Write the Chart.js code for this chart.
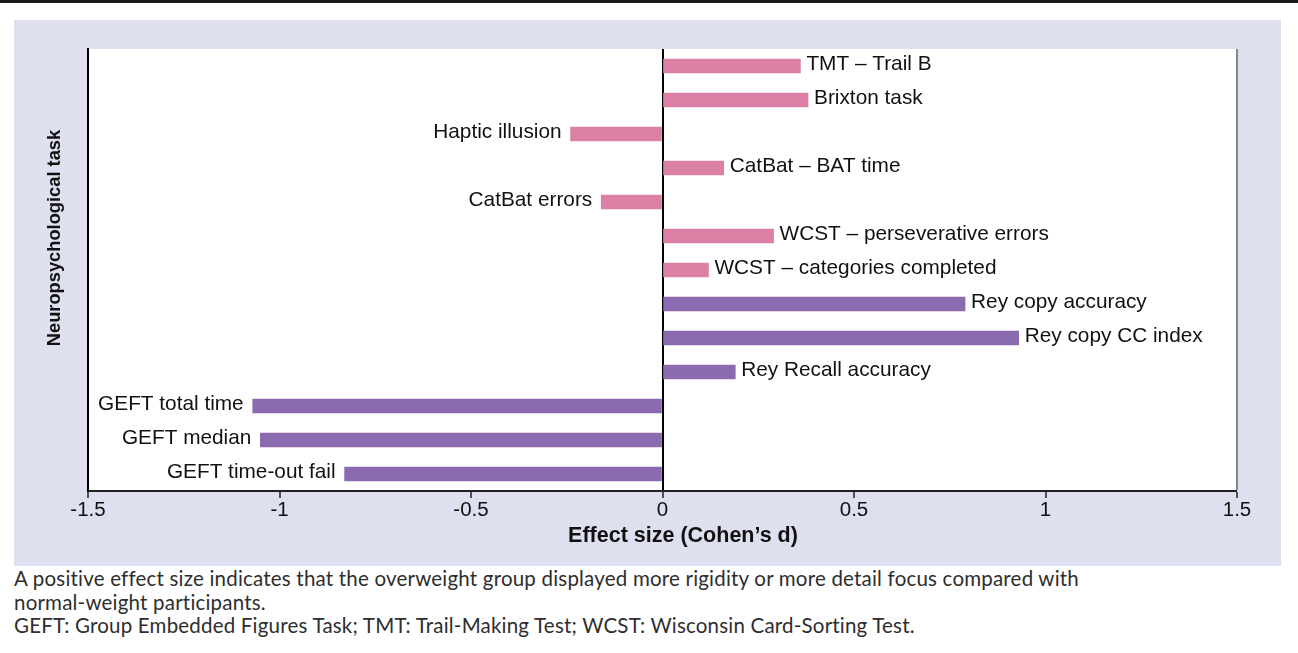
<!DOCTYPE html>
<html>
<head>
<meta charset="utf-8">
<script src="https://cdn.jsdelivr.net/npm/chart.js@4/dist/chart.umd.min.js"></script>
<style>
  html, body { margin: 0; padding: 0; background: #ffffff; }
  body { width: 1298px; height: 653px; position: relative; overflow: hidden; }
  #topbar { position: absolute; left: 0; top: 0; width: 1298px; height: 3px; background: #1a1a1a; }
  #panel { position: absolute; left: 14px; top: 20px; width: 1267px; height: 546px; background: #dfe0ef; }
  #panel canvas { position: absolute; left: 0; top: 0; }
  #notes { position: absolute; left: 14px; top: 567px; font-family: Lato, "Open Sans", sans-serif; font-size: 20.5px; letter-spacing: 0.2px; line-height: 23.5px; color: #2e2e2e; white-space: nowrap; }
</style>
</head>
<body>
<div id="topbar"></div>
<div id="panel"><canvas id="chart" width="1267" height="546"></canvas></div>
<div id="notes">A positive effect size indicates that the overweight group displayed more rigidity or more detail focus compared with<br>normal-weight participants.<br>GEFT: Group Embedded Figures Task; TMT: Trail-Making Test; WCST: Wisconsin Card-Sorting Test.</div>
<script>
// ---- data ----
const tasks = [
  'TMT – Trail B',
  'Brixton task',
  'Haptic illusion',
  'CatBat – BAT time',
  'CatBat errors',
  'WCST – perseverative errors',
  'WCST – categories completed',
  'Rey copy accuracy',
  'Rey copy CC index',
  'Rey Recall accuracy',
  'GEFT total time',
  'GEFT median',
  'GEFT time-out fail'
];
const effectSizes = [0.36, 0.38, -0.24, 0.16, -0.16, 0.29, 0.12, 0.79, 0.93, 0.19, -1.07, -1.05, -0.83];
const taskDomain = ['rigidity','rigidity','rigidity','rigidity','rigidity','rigidity','rigidity',
                    'detail','detail','detail','detail','detail','detail'];
const xTicks = [-1.5, -1, -0.5, 0, 0.5, 1, 1.5];
const xAxisTitle = 'Effect size (Cohen’s d)';
const yAxisTitle = 'Neuropsychological task';

const domainColors = { rigidity: '#db7fa4', detail: '#8b6bb0' };
const FONT = '"Liberation Sans", Arial, Helvetica, sans-serif';

const whiteArea = {
  id: 'whiteArea',
  beforeDraw(chart) {
    const { ctx, chartArea: a } = chart;
    ctx.save();
    ctx.fillStyle = '#ffffff';
    ctx.fillRect(a.left, a.top, a.right - a.left, a.bottom - a.top);
    ctx.restore();
  }
};

const barLabels = {
  id: 'barLabels',
  afterDatasetsDraw(chart) {
    const ctx = chart.ctx;
    const meta = chart.getDatasetMeta(0);
    ctx.save();
    ctx.font = '20.8px ' + FONT;
    ctx.fillStyle = '#111';
    ctx.textBaseline = 'middle';
    meta.data.forEach((bar, i) => {
      const v = effectSizes[i];
      if (v >= 0) {
        ctx.textAlign = 'left';
        ctx.fillText(tasks[i], bar.x + 6, bar.y - 2);
      } else {
        ctx.textAlign = 'right';
        ctx.fillText(tasks[i], bar.x - 9, bar.y - 2);
      }
    });
    ctx.restore();
  }
};

const axisTitles = {
  id: 'axisTitles',
  afterDraw(chart) {
    const ctx = chart.ctx;
    ctx.save();
    ctx.fillStyle = '#111';
    ctx.font = 'bold 21.5px ' + FONT;
    ctx.textAlign = 'center';
    ctx.textBaseline = 'middle';
    ctx.fillText(xAxisTitle, 669, 516);
    ctx.translate(41, 218);
    ctx.rotate(-Math.PI / 2);
    ctx.font = 'bold 18.3px ' + FONT;
    ctx.fillText(yAxisTitle, 0, 0);
    ctx.restore();
  }
};

new Chart(document.getElementById('chart'), {
  type: 'bar',
  data: {
    labels: tasks,
    datasets: [{
      data: effectSizes,
      backgroundColor: taskDomain.map(d => domainColors[d]),
      borderWidth: 0,
      barThickness: 14
    }]
  },
  plugins: [whiteArea, barLabels, axisTitles],
  options: {
    indexAxis: 'y',
    responsive: false,
    animation: false,
    events: [],
    layout: { padding: { left: 74, top: 29, right: 44, bottom: 0 } },
    plugins: { legend: { display: false }, tooltip: { enabled: false } },
    scales: {
      x: {
        type: 'linear',
        min: -1.5,
        max: 1.5,
        afterBuildTicks(scale) { scale.ticks = xTicks.map(v => ({ value: v })); },
        afterFit(scale) { scale.height = 75; },
        ticks: {
          font: { family: FONT, size: 20.5 },
          color: '#111',
          padding: 0,
          callback: v => String(v)
        },
        grid: {
          drawOnChartArea: true,
          drawTicks: true,
          tickLength: 7,
          tickWidth: 1.5,
          tickColor: '#222',
          lineWidth: ctx => (ctx.tick && (ctx.tick.value === 0 || ctx.tick.value === 1.5)) ? 2 : 0,
          color: ctx => {
            if (!ctx.tick) return 'transparent';
            if (ctx.tick.value === 0) return '#000';
            if (ctx.tick.value === 1.5) return '#888';
            return 'transparent';
          }
        },
        border: { display: true, color: '#222', width: 2 }
      },
      y: {
        type: 'category',
        offset: true,
        afterFit(scale) { scale.width = 0; },
        ticks: { display: false },
        grid: { display: false, drawTicks: false },
        border: { display: true, color: '#000', width: 2 }
      }
    }
  }
});
</script>
</body>
</html>
